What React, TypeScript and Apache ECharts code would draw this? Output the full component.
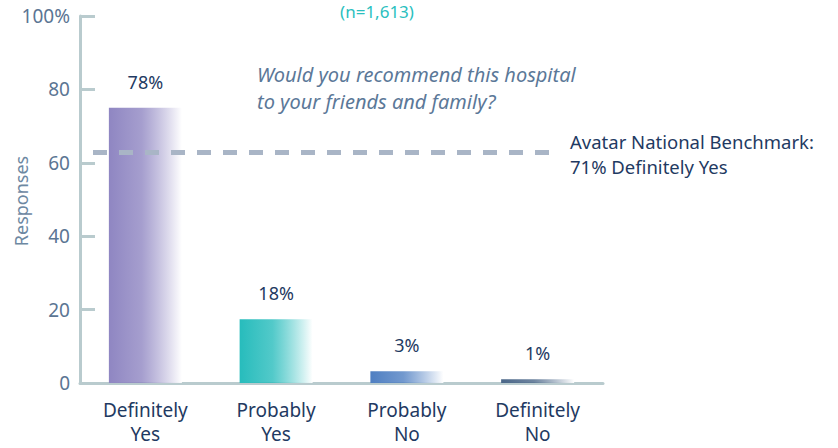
import React, { useEffect, useRef } from "react";
import * as echarts from "echarts";

const categories = ["Definitely\nYes", "Probably\nYes", "Probably\nNo", "Definitely\nNo"];
const barValues = [75, 17.4, 3.2, 1];
const barLabels = ["78%", "18%", "3%", "1%"];
const barColors = ["#8f86c2", "#27bcbc", "#4f7fc2", "#4a6688"];
const benchmarkValue = 63;
const yTicks = [0, 20, 40, 60, 80, 100];

const FONT = "Noto Sans";

export default function App() {
  const ref = useRef<HTMLDivElement>(null);
  useEffect(() => {
    if (!ref.current) return;
    const chart = echarts.init(ref.current, null, { renderer: "svg" });
    const axisColor = "#b9cbce";
    chart.setOption({
      animation: false,
      textStyle: { fontFamily: FONT },
      grid: { left: 80, right: 235, top: 16, bottom: 65, containLabel: false, outerBoundsMode: "none" },
      title: {
        text: "(n=1,613)",
        left: 377,
        top: 3,
        padding: 0,
        textAlign: "center",
        textStyle: { color: "#2bbfc0", fontSize: 17, fontWeight: "normal", fontFamily: FONT },
      },
      xAxis: {
        type: "category",
        data: categories,
        axisLine: { lineStyle: { color: axisColor, width: 3 } },
        axisTick: { inside: true, length: 9, lineStyle: { color: axisColor, width: 3 } },
        axisLabel: { color: "#1f3a62", fontSize: 19, lineHeight: 24, margin: 15, fontFamily: FONT },
      },
      yAxis: {
        type: "value",
        min: 0,
        max: 100,
        interval: 20,
        axisLine: { show: true, lineStyle: { color: axisColor, width: 3 } },
        axisTick: { show: true, inside: true, length: 15, lineStyle: { color: axisColor, width: 3 } },
        splitLine: { show: false },
        axisLabel: {
          color: "#5b7593",
          fontSize: 19,
          margin: 10,
          fontFamily: FONT,
          formatter: (v: number) => (v === yTicks[yTicks.length - 1] ? v + "%" : String(v)),
        },
      },
      graphic: [
        {
          type: "text",
          x: 21,
          y: 201,
          rotation: Math.PI / 2,
          style: {
            text: "Responses",
            fill: "#6d88a2",
            font: `18px "${FONT}"`,
            align: "center",
            verticalAlign: "middle",
          },
        },
        {
          type: "text",
          left: 257,
          top: 61,
          style: {
            text: "Would you recommend this hospital\nto your friends and family?",
            fill: "#5b7898",
            font: `italic 20px "${FONT}"`,
            lineHeight: 27,
          },
        },
        {
          type: "text",
          left: 570,
          top: 129,
          style: {
            text: "Avatar National Benchmark:\n71% Definitely Yes",
            fill: "#1f3a62",
            font: `18.5px "${FONT}"`,
            lineHeight: 25,
          },
        },
      ],
      series: [
        {
          type: "bar",
          barWidth: 73,
          data: barValues.map((v, i) => ({
            value: v,
            itemStyle: {
              color: new echarts.graphic.LinearGradient(0, 0, 1, 0, [
                { offset: 0, color: barColors[i] },
                { offset: 0.45, color: echarts.color.modifyAlpha(barColors[i], 0.8) },
                { offset: 1, color: "rgba(255,255,255,0.95)" },
              ]),
            },
          })),
          label: {
            show: true,
            position: "top",
            distance: 17,
            color: "#1f3a62",
            fontSize: 18,
            fontFamily: FONT,
            formatter: (p: any) => barLabels[p.dataIndex],
          },
          markLine: {
            silent: true,
            symbol: "none",
            label: { show: false },
            lineStyle: { color: "#a9b5c6", width: 5, type: [14, 12] },
            data: [[{ x: 93, yAxis: benchmarkValue }, { x: 556, yAxis: benchmarkValue }]],
          },
        },
      ],
    });
    return () => chart.dispose();
  }, []);
  return <div ref={ref} style={{ width: 838, height: 448, position: "absolute", left: 0, top: 0 }} />;
}
